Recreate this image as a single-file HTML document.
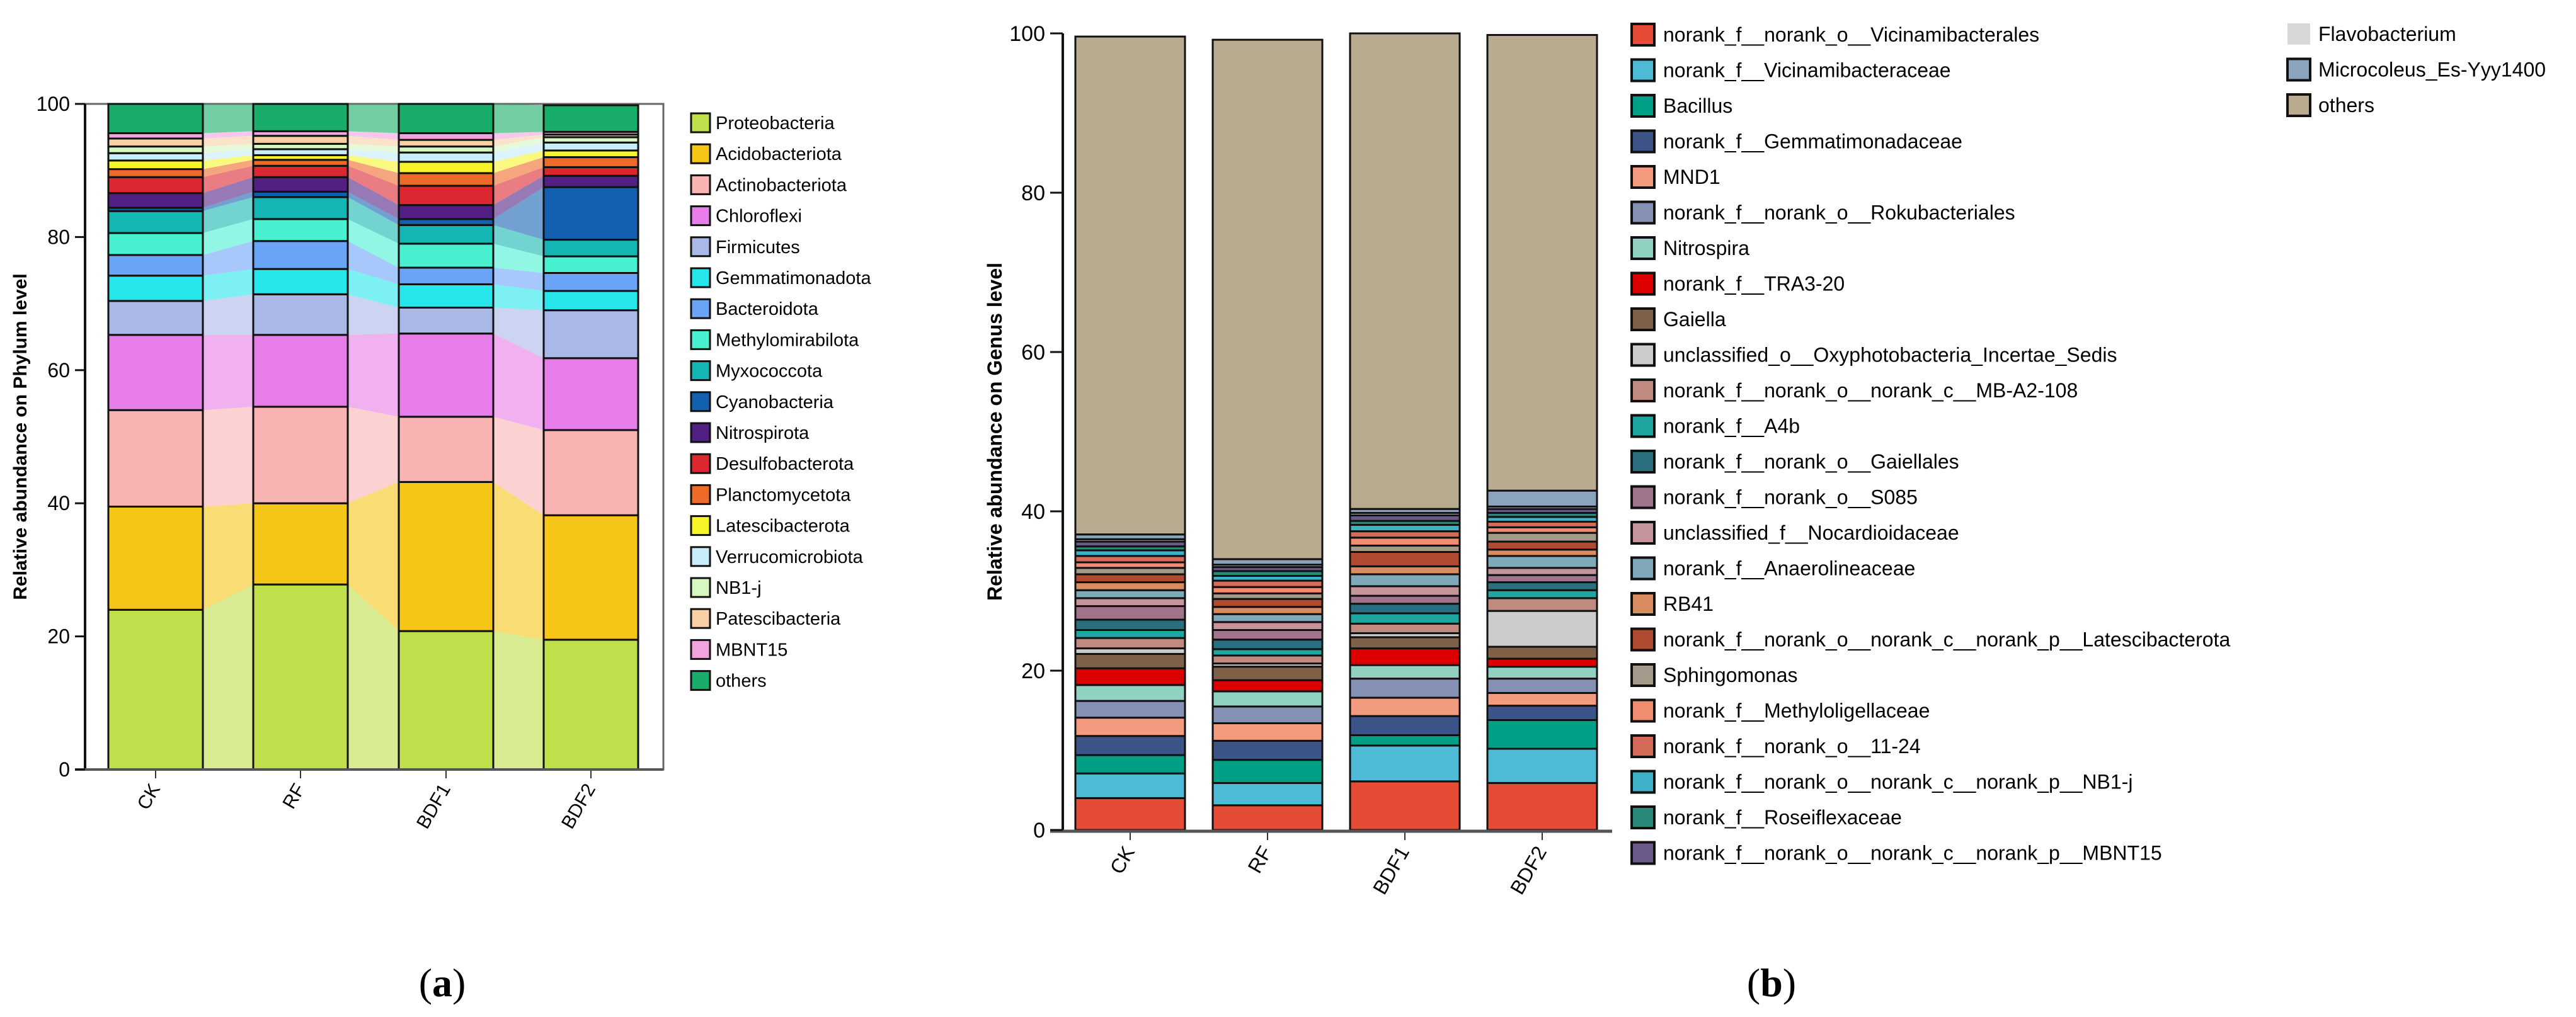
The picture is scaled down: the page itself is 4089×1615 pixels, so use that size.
<!DOCTYPE html>
<html><head><meta charset="utf-8"><title>Relative abundance charts</title>
<style>
html,body{margin:0;padding:0;background:#fff;}
svg{display:block;font-family:"Liberation Sans",Arial,sans-serif;}
</style></head>
<body>
<svg id="fig" xmlns="http://www.w3.org/2000/svg" width="4089" height="1615" viewBox="0 0 4089 1615">
<g id="panelA"></g>
<g id="panelB"></g>
<text x="702" y="1582" font-family="Liberation Serif, serif" font-size="64" text-anchor="middle">(<tspan font-weight="bold">a</tspan>)</text>
<text x="2812" y="1582" font-family="Liberation Serif, serif" font-size="64" text-anchor="middle">(<tspan font-weight="bold">b</tspan>)</text>
</svg>
<script>
const samples = ["CK","RF","BDF1","BDF2"];
const phyla = ["Proteobacteria","Acidobacteriota","Actinobacteriota","Chloroflexi","Firmicutes","Gemmatimonadota","Bacteroidota","Methylomirabilota","Myxococcota","Cyanobacteria","Nitrospirota","Desulfobacterota","Planctomycetota","Latescibacterota","Verrucomicrobiota","NB1-j","Patescibacteria","MBNT15","others"];
const phylaColors = ["#bfe04a","#f5c518","#f9b3b3","#e77de8","#aab8e8","#26e6ec","#6aa4f6","#48f0d0","#14b5b2","#1460b0","#521f84","#dc2630","#ee6a28","#f7f52a","#c7ecfa","#d6f7c0","#f9cfa6","#f1a3dd","#18ad68"];
// phylum abundances (%) per sample, in phyla order
const phylumCK   = [24.0,15.5,14.5,11.3,5.1,3.8,3.1,3.3,3.3,0.5,2.2,2.4,1.2,1.3,1.1,1.0,1.2,0.8,4.4];
const phylumRF   = [27.8,12.2,14.5,10.8,6.1,3.8,4.2,3.3,3.3,0.8,2.2,1.7,0.9,0.7,0.9,0.8,1.2,0.7,4.1];
const phylumBDF1 = [20.8,22.4,9.8,12.5,3.9,3.5,2.5,3.6,2.8,0.9,2.1,2.9,1.9,1.7,1.4,0.9,1.0,1.0,4.4];
const phylumBDF2 = [19.5,18.7,12.8,10.8,7.2,2.9,2.7,2.5,2.5,7.9,1.7,1.3,1.5,1.0,1.2,0.8,0.4,0.4,4.0];
const phylumData = [phylumCK, phylumRF, phylumBDF1, phylumBDF2];
const yTicksA = [0,20,40,60,80,100];

const genera = ["norank_f__norank_o__Vicinamibacterales","norank_f__Vicinamibacteraceae","Bacillus","norank_f__Gemmatimonadaceae","MND1","norank_f__norank_o__Rokubacteriales","Nitrospira","norank_f__TRA3-20","Gaiella","unclassified_o__Oxyphotobacteria_Incertae_Sedis","norank_f__norank_o__norank_c__MB-A2-108","norank_f__A4b","norank_f__norank_o__Gaiellales","norank_f__norank_o__S085","unclassified_f__Nocardioidaceae","norank_f__Anaerolineaceae","RB41","norank_f__norank_o__norank_c__norank_p__Latescibacterota","Sphingomonas","norank_f__Methyloligellaceae","norank_f__norank_o__11-24","norank_f__norank_o__norank_c__norank_p__NB1-j","norank_f__Roseiflexaceae","norank_f__norank_o__norank_c__norank_p__MBNT15","Flavobacterium","Microcoleus_Es-Yyy1400","others"];
const generaColors = ["#e64b35","#4dbbd5","#00a087","#3c5488","#f39b7f","#8491b4","#91d1c2","#dc0000","#7e6148","#cccccc","#c08a80","#1fa6a0","#2a6f80","#a0748a","#c5959b","#7fa8b8","#d98c5f","#b04a30","#a39a8a","#f08c70","#d46a58","#3eb0c8","#2a8a7a","#6a5a8a","#d8d8d8","#8ba3bd","#b9ab90"];
const genusCK   = [4.0,3.1,2.3,2.4,2.3,2.1,2.0,2.1,1.8,0.7,1.3,1.0,1.3,1.7,1.0,1.0,1.0,1.0,0.8,0.7,0.8,0.7,0.5,0.6,0.3,0.6,62.5];
const genusRF   = [3.1,2.8,2.9,2.4,2.2,2.1,1.9,1.4,1.7,0.4,1.0,0.8,1.2,1.2,1.0,1.0,0.9,1.0,0.7,0.8,0.8,0.6,0.6,0.5,0.3,0.7,65.2];
const genusBDF1 = [6.1,4.5,1.3,2.4,2.3,2.4,1.7,2.1,1.4,0.5,1.2,1.3,1.2,1.0,1.2,1.5,1.0,1.8,0.8,1.0,0.8,0.8,0.5,0.7,0.3,0.5,59.7];
const genusBDF2 = [5.9,4.3,3.6,1.8,1.6,1.8,1.5,1.0,1.5,4.5,1.6,1.0,1.0,0.9,0.9,1.5,0.8,1.0,1.1,0.7,0.7,0.6,0.5,0.5,0.3,2.0,57.2];
const genusData = [genusCK, genusRF, genusBDF1, genusBDF2];
const yTicksB = [0,20,40,60,80,100];

const NS = "http://www.w3.org/2000/svg";
function mk(tag, attrs, parent){ const e=document.createElementNS(NS,tag); for(const k in attrs) e.setAttribute(k,attrs[k]); parent.appendChild(e); return e; }

// ---------- Panel A ----------
const A = document.getElementById('panelA');
const aTop=165, aBot=1222, aLeft=135, aRight=1053;
const yA = v => aBot - (aBot-aTop)*v/100;
const barCentersA = [247,477,708,938], bwA=150;
const xA = i => barCentersA[i];
let fr = mk('rect',{x:aLeft,y:aTop,width:aRight-aLeft,height:aBot-aTop,fill:'none',stroke:'#666','stroke-width':3},A);


const cumA = phylumData.map(arr=>{let s=0; return arr.map(v=>{const b=s; s+=v; return [b,s];});});
for(let i=0;i<3;i++){
  const xr = xA(i)+bwA/2, xl = xA(i+1)-bwA/2;
  phyla.forEach((p,j)=>{
    const a=cumA[i][j], b=cumA[i+1][j];
    const poly = mk('polygon',{points:`${xr},${yA(a[1])} ${xl},${yA(b[1])} ${xl},${yA(b[0])} ${xr},${yA(a[0])}`,fill:phylaColors[j],'fill-opacity':0.6},A);
    
    
  });
}
samples.forEach((s,i)=>{
  phyla.forEach((p,j)=>{
    const [b,t]=cumA[i][j];
    const r = mk('rect',{x:xA(i)-bwA/2,y:yA(t),width:bwA,height:Math.max(0,yA(b)-yA(t)),fill:phylaColors[j],stroke:'#111','stroke-width':3},A);
    
    
  });
  const tk = mk('line',{x1:xA(i),x2:xA(i),y1:aBot,y2:aBot+14,stroke:'#333','stroke-width':2},A);
  
  
  const lb = mk('text',{x:xA(i)+8,y:aBot+30,'font-size':30,'text-anchor':'end',transform:`rotate(-60 ${xA(i)+8} ${aBot+30})`},A);
  lb.textContent=s;
  
  
});
let ax = mk('line',{x1:aLeft,x2:aLeft,y1:aTop,y2:aBot,stroke:'#111','stroke-width':4},A);


let axx = mk('line',{x1:aLeft-16,x2:aRight,y1:aBot,y2:aBot,stroke:'#555','stroke-width':4},A);


yTicksA.forEach(t=>{
  const l = mk('line',{x1:aLeft-16,x2:aLeft,y1:yA(t),y2:yA(t),stroke:'#111','stroke-width':3},A);
  
  
  const tx = mk('text',{x:aLeft-24,y:yA(t)+11,'font-size':32,'text-anchor':'end'},A);
  tx.textContent=t;
  
  
});
let tA = mk('text',{x:0,y:0,'font-size':30,'font-weight':'bold','text-anchor':'middle',transform:`translate(42 ${(aTop+aBot)/2}) rotate(-90)`},A);
tA.textContent='Relative abundance on Phylum level';


phyla.forEach((p,j)=>{
  const y0 = 195 + j*49.2;
  const g = mk('g',{},A);
  
  
  mk('rect',{x:1097,y:y0-15,width:30,height:30,fill:phylaColors[j],stroke:'#111','stroke-width':3},g);
  const t = mk('text',{x:1136,y:y0+10,'font-size':29},g);
  t.textContent=p;
});

// ---------- Panel B ----------
const B = document.getElementById('panelB');
const bTop=53, bBot=1318, bLeft=1687, bRight=2559;
const yB = v => bBot - (bBot-bTop)*v/100;
const barCentersB = [1794,2012,2230,2448], bwB=174;
const xB = i => barCentersB[i];
samples.forEach((s,i)=>{
  let acc=0;
  genera.forEach((g,j)=>{
    const v=genusData[i][j];
    const r = mk('rect',{x:xB(i)-bwB/2,y:yB(acc+v),width:bwB,height:Math.max(0,yB(acc)-yB(acc+v)),fill:generaColors[j],stroke:'#111','stroke-width':3},B);
    
    
    acc+=v;
  });
  const tk = mk('line',{x1:xB(i),x2:xB(i),y1:bBot,y2:bBot+16,stroke:'#333','stroke-width':2},B);
  
  
  const lb = mk('text',{x:xB(i)+8,y:bBot+34,'font-size':32,'text-anchor':'end',transform:`rotate(-60 ${xB(i)+8} ${bBot+34})`},B);
  lb.textContent=s;
  
  
});
let bx = mk('line',{x1:bLeft,x2:bLeft,y1:bTop,y2:bBot,stroke:'#111','stroke-width':4},B);


let bxx = mk('line',{x1:bLeft-20,x2:bRight,y1:bBot+2,y2:bBot+2,stroke:'#555','stroke-width':5},B);


yTicksB.forEach(t=>{
  const l = mk('line',{x1:bLeft-20,x2:bLeft,y1:yB(t),y2:yB(t),stroke:'#111','stroke-width':3},B);
  
  
  const tx = mk('text',{x:bLeft-28,y:yB(t)+12,'font-size':34,'text-anchor':'end'},B);
  tx.textContent=t;
  
  
});
let tB = mk('text',{x:0,y:0,'font-size':32,'font-weight':'bold','text-anchor':'middle',transform:`translate(1590 ${(bTop+bBot)/2}) rotate(-90)`},B);
tB.textContent='Relative abundance on Genus level';


genera.forEach((g,j)=>{
  const col = j<24?0:1, row = j<24?j:j-24;
  const y0 = (col?54:55) + row*56.5;
  const sx = col?3631:2590, tx0 = col?3680:2640;
  const grp = mk('g',{},B);
  
  
  mk('rect',{x:sx,y:y0-17,width:36,height:34,fill:generaColors[j],stroke:(g==='Flavobacterium'?'none':'#111'),'stroke-width':4},grp);
  const t = mk('text',{x:tx0,y:y0+11,'font-size':32},grp);
  t.textContent=g;
});
</script>
</body></html>
